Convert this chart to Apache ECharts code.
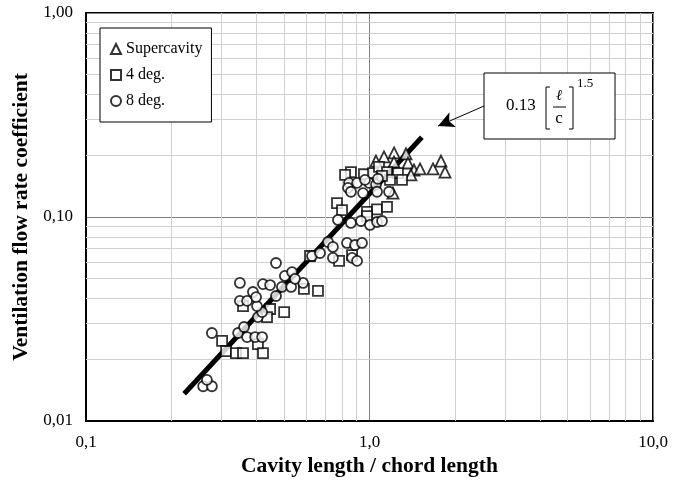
<!DOCTYPE html>
<html>
	<head>
		<meta charset="UTF-8">
		<title></title>
		<style>
			body{margin:0;background:#fff;}
		</style>
	</head>
	<body>
		<div id="box" style="width: 688px;height: 488px;"></div>

		<script type="text/javascript" src="https://cdn.jsdelivr.net/npm/echarts@6/dist/echarts.min.js"></script>
		<script type="text/javascript">
			// Supercavity
			var superX=[1.054,1.125,1.221,1.345,1.22,1.367,1.435,1.507,1.675,1.787,1.847,1.21,1.40];
			var superY=[0.188,0.197,0.206,0.204,0.186,0.184,0.170,0.172,0.172,0.188,0.166,0.131,0.161];
			// 4 deg.
			var deg4X=[0.860,0.820,0.956,1.029,1.080,1.153,1.260,1.302,1.181,0.768,0.800,0.980,1.063,0.980,1.153,0.617,0.781,0.868,0.587,0.658,0.358,0.446,0.500,0.435,0.302,0.312,0.338,0.358,0.404,0.421,1.107];
			var deg4Y=[0.166,0.161,0.162,0.164,0.176,0.166,0.164,0.152,0.152,0.117,0.108,0.106,0.109,0.101,0.112,0.0644,0.0609,0.0651,0.0444,0.0434,0.0366,0.0354,0.0342,0.0323,0.0247,0.0220,0.0215,0.0215,0.0238,0.0215,0.159];
			// 8 deg.
			var deg8X=[0.259,0.278,0.267,0.278,0.344,0.370,0.395,0.418,0.361,0.404,0.418,0.401,0.349,0.370,0.388,0.398,0.468,0.349,0.421,0.446,0.491,0.529,0.583,0.468,0.503,0.533,0.546,0.627,0.669,0.743,0.868,0.904,0.714,0.743,0.833,0.889,0.941,0.774,0.860,0.933,1.004,1.063,1.107,0.847,0.840,0.860,0.904,0.949,0.996,1.054,1.071,1.063,1.172,0.964];
			var deg8Y=[0.0148,0.0148,0.0159,0.0270,0.0270,0.0258,0.0258,0.0258,0.0289,0.0323,0.0342,0.0366,0.0388,0.0388,0.0429,0.0405,0.0410,0.0475,0.0469,0.0464,0.0454,0.0454,0.0475,0.0595,0.0514,0.0537,0.0497,0.0644,0.0666,0.0630,0.0630,0.0609,0.0754,0.0713,0.0746,0.0729,0.0746,0.0967,0.0935,0.0956,0.0914,0.0945,0.0956,0.147,0.139,0.133,0.147,0.131,0.147,0.144,0.154,0.133,0.133,0.152];
			// fit 0.13*(l/c)^1.5, end points
			var fitX=[0.222,1.53];
			var fitY=[0.0136,0.246];
			// arrow from box to line
			var arrowFrom=[2.535,0.350];
			var arrowTo=[1.745,0.279];
			// minor grid lines
			var minorX=[0.2,0.3,0.4,0.5,0.6,0.7,0.8,0.9,2,3,4,5,6,7,8,9];
			var minorY=[0.02,0.03,0.04,0.05,0.06,0.07,0.08,0.09,0.2,0.3,0.4,0.5,0.6,0.7,0.8,0.9];

			function pairs(xs,ys){
				return xs.map(function(x,i){return [x,ys[i]];});
			}

			var font='"Liberation Serif","Times New Roman",serif';
			var box=document.getElementById('box');
			var myechart=echarts.init(box);

			var gridLines=[];
			minorX.forEach(function(v){gridLines.push({xAxis:v});});
			minorY.forEach(function(v){gridLines.push({yAxis:v});});

			var mk={color:'#fff',borderColor:'#000',borderWidth:1.8};

			var option={
				animation:false,
				backgroundColor:'#fff',
				grid:{left:86,right:35,top:13,bottom:67,show:true,borderColor:'#000',borderWidth:2,backgroundColor:'transparent'},
				legend:{
					orient:'vertical',
					left:100,top:28,
					padding:[13,9,13,10],
					itemGap:10,
					itemWidth:10,itemHeight:10,
					backgroundColor:'#fff',
					borderColor:'#000',borderWidth:1,
					z:8,
					textStyle:{fontFamily:font,fontSize:16,color:'#000',lineHeight:16},
					data:['Supercavity','4 deg.','8 deg.']
				},
				xAxis:{
					type:'log',logBase:10,min:0.1,max:10,
					name:'Cavity length / chord length',
					nameLocation:'middle',nameGap:33,
					nameTextStyle:{fontFamily:font,fontSize:21.5,fontWeight:'bold',color:'#000'},
					axisLine:{lineStyle:{color:'#000',width:2}},
					axisTick:{show:false},
					axisLabel:{fontFamily:font,fontSize:17,color:'#000',margin:13,
						formatter:function(v){return v.toFixed(1).replace('.',',');}},
					splitLine:{lineStyle:{color:'#808080',width:1}}
				},
				yAxis:{
					type:'log',logBase:10,min:0.01,max:1,
					name:'Ventilation flow rate coefficient',
					nameLocation:'middle',nameGap:53,
					nameTextStyle:{fontFamily:font,fontSize:21.5,fontWeight:'bold',color:'#000'},
					axisLine:{lineStyle:{color:'#000',width:2}},
					axisTick:{show:false},
					axisLabel:{fontFamily:font,fontSize:17,color:'#000',margin:13,
						formatter:function(v){return v.toFixed(2).replace('.',',');}},
					splitLine:{lineStyle:{color:'#808080',width:1}}
				},
				series:[{
					name:'grid',
					type:'line',
					data:[],
					z:1,
					silent:true,
					markLine:{
						z:1,
						silent:true,symbol:['none','none'],
						label:{show:false},
						lineStyle:{color:'#d0d0d0',width:1,type:'solid'},
						data:gridLines
					}
				},{
					name:'fit',
					type:'line',
					data:pairs(fitX,fitY),
					showSymbol:false,
					z:2,
					lineStyle:{color:'#000',width:5},
					markLine:{
						z:9,
						silent:true,symbol:['none','arrow'],symbolSize:[12,16],
						label:{show:false},
						lineStyle:{color:'#000',width:1,type:'solid'},
						data:[[{coord:arrowFrom},{coord:arrowTo}]]
					}
				},{
					name:'Supercavity',
					type:'scatter',
					symbol:'triangle',symbolSize:11,
					z:4,
					itemStyle:mk,
					data:pairs(superX,superY)
				},{
					name:'4 deg.',
					type:'scatter',
					symbol:'rect',symbolSize:10,
					z:4,
					itemStyle:mk,
					data:pairs(deg4X,deg4Y)
				},{
					name:'8 deg.',
					type:'scatter',
					symbol:'circle',symbolSize:10,
					z:4,
					itemStyle:mk,
					data:pairs(deg8X,deg8Y)
				}],
				graphic:[
					{type:'rect',shape:{x:484,y:73,width:131,height:66},style:{fill:'#fff',stroke:'#000',lineWidth:1},z:10},
					{type:'text',x:506,y:106,style:{text:'0.13',font:'17px '+font,fill:'#000',verticalAlign:'middle'},z:11},
					{type:'polyline',shape:{points:[[550,87],[546,87],[546,129],[550,129]]},style:{stroke:'#000',lineWidth:1,fill:null},z:11},
					{type:'polyline',shape:{points:[[569,87],[573,87],[573,129],[569,129]]},style:{stroke:'#000',lineWidth:1,fill:null},z:11},
					{type:'text',x:559,y:96,style:{text:'ℓ',font:'italic 15px '+font,fill:'#000',align:'center',verticalAlign:'middle'},z:11},
					{type:'line',shape:{x1:553,y1:107,x2:566,y2:107},style:{stroke:'#000',lineWidth:1},z:11},
					{type:'text',x:559,y:119,style:{text:'c',font:'17px '+font,fill:'#000',align:'center',verticalAlign:'middle'},z:11},
					{type:'text',x:577,y:77,style:{text:'1.5',font:'13px '+font,fill:'#000'},z:11}
				]
			};

			myechart.setOption(option);
		</script>
	</body>
</html>
